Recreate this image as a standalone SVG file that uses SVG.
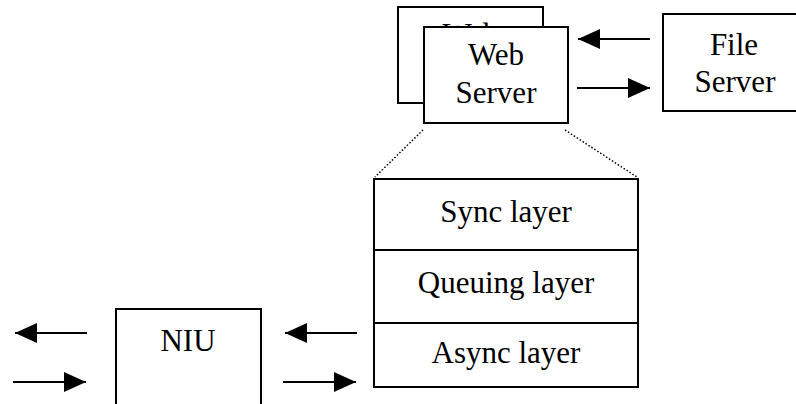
<svg xmlns="http://www.w3.org/2000/svg" width="796" height="404" viewBox="0 0 796 404">
<defs>
<style>
.box{fill:#fff;stroke:#000;stroke-width:2}
.t{font-family:"Liberation Serif","Times New Roman",serif;font-size:31px;fill:#000;text-anchor:middle}
.ln{stroke:#000;stroke-width:2;fill:none}
.dot{stroke:#000;stroke-width:1.5;stroke-dasharray:1.5 2;fill:none}
</style>
<clipPath id="peek"><rect x="398" y="7" width="145" height="20"/></clipPath>
<marker id="ah" viewBox="0 0 22 20" refX="22" refY="10" markerWidth="22" markerHeight="20" markerUnits="userSpaceOnUse" orient="auto">
<path d="M0,0 L22,10 L0,20 Z" fill="#000"/>
</marker>
</defs>
<rect width="796" height="404" fill="#fff"/>
<g id="web-server-back">
<rect class="box" x="398" y="7" width="145" height="96"/>
<text class="t" x="470.5" y="45" clip-path="url(#peek)">Web</text>
</g>
<g id="web-server">
<rect class="box" x="424" y="27" width="144" height="96"/>
<text class="t" x="496" y="65">Web</text>
<text class="t" x="496" y="103">Server</text>
</g>
<g id="file-server">
<rect class="box" x="663" y="14" width="140" height="97"/>
<text class="t" x="734" y="55">File</text>
<text class="t" x="735" y="92">Server</text>
</g>
<g id="stack">
<rect class="box" x="374" y="179" width="264" height="208"/>
<line class="ln" x1="374" y1="250" x2="638" y2="250"/>
<line class="ln" x1="374" y1="323" x2="638" y2="323"/>
<text class="t" x="506" y="222">Sync layer</text>
<text class="t" x="506" y="293">Queuing layer</text>
<text class="t" x="506" y="363">Async layer</text>
</g>
<g id="niu">
<rect class="box" x="116" y="309" width="145" height="110"/>
<text class="t" x="188" y="351">NIU</text>
</g>
<g id="connectors">
<line class="dot" x1="423" y1="130" x2="375" y2="177"/>
<line class="dot" x1="565" y1="130" x2="637" y2="177"/>
<line class="ln" x1="650" y1="39" x2="578" y2="39" marker-end="url(#ah)"/>
<line class="ln" x1="577" y1="88" x2="650" y2="88" marker-end="url(#ah)"/>
<line class="ln" x1="87" y1="333" x2="15" y2="333" marker-end="url(#ah)"/>
<line class="ln" x1="13" y1="382" x2="86" y2="382" marker-end="url(#ah)"/>
<line class="ln" x1="357" y1="333" x2="285" y2="333" marker-end="url(#ah)"/>
<line class="ln" x1="283" y1="382" x2="356" y2="382" marker-end="url(#ah)"/>
</g>
</svg>
